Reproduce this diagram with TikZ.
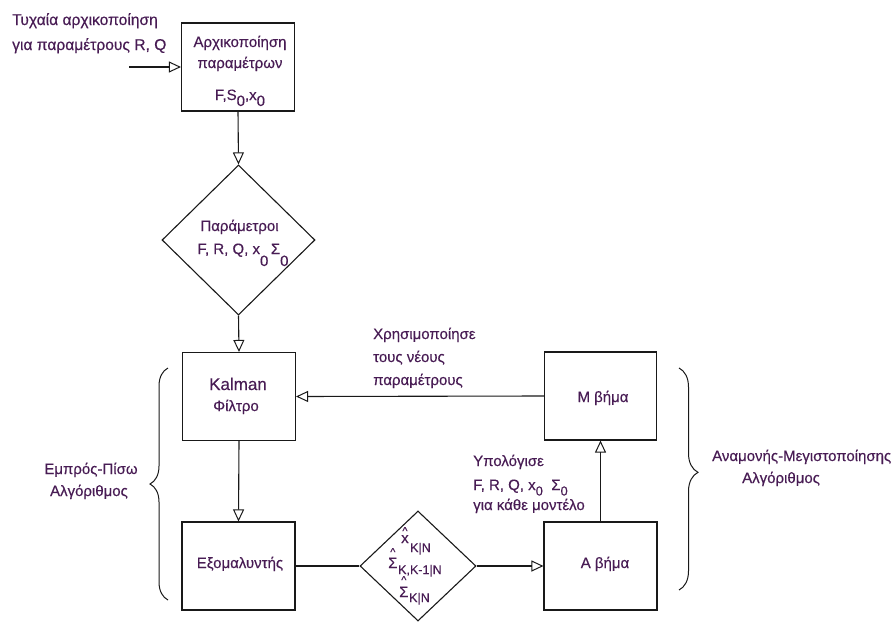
\documentclass[tikz,border=0pt]{standalone}
\usepackage{fontspec}
\setmainfont{Liberation Sans}
\newfontfamily\inkfont{Liberation Sans}[FakeBold=0.35]
\usetikzlibrary{arrows.meta,decorations.pathreplacing,shapes.geometric}

\definecolor{ink}{RGB}{72,28,84}
\definecolor{edgecol}{RGB}{25,25,25}

% lowered index: [drop] {size} {text}
\newcommand\lowsub[3][6pt]{\raisebox{-#1}{\fontsize{#2}{#2}\selectfont #3}}

\tikzset{
  flow/.style={draw=edgecol, line width=1.1pt},
  arr/.style={flow, -{Triangle[open, length=12pt, width=11pt, line width=1pt]}},
  stepbox/.style={draw=edgecol, line width=1.1pt, rectangle, inner sep=0pt,
    minimum width=113pt, minimum height=88pt},
  choice/.style={draw=edgecol, line width=1.1pt, diamond, inner sep=0pt},
  lbl/.style={text=ink, font=\inkfont\fontsize{15}{18}\selectfont, inner sep=0pt, anchor=base},
  lblw/.style={lbl, anchor=base west},
  idx/.style={lblw, font=\inkfont\fontsize{12.5}{14}\selectfont},
  caret/.style={text=ink, font=\inkfont\fontsize{11}{11}\selectfont, inner sep=0pt, anchor=north},
  curly/.style={draw=edgecol, line width=1pt, decorate},
}

\begin{document}
\begin{tikzpicture}[x=1pt, y=-1pt]
\useasboundingbox (0,0) rectangle (891,621);

% boxes and decisions
\node[stepbox] (init)   at (238,67)    {};
\node[choice, minimum width=153pt, minimum height=150pt] (par) at (238.5,240) {};
\node[stepbox] (kalman) at (239,396.5) {};
\node[stepbox] (smooth) at (238.5,566) {};
\node[choice, minimum width=116pt, minimum height=110pt] (est) at (418,566) {};
\node[stepbox, minimum width=112pt] (mstep) at (600.5,396) {};
\node[stepbox] (astep)  at (600.5,566) {};

% connectors
\coordinate (start) at (129,67);
\draw[arr] (start) -- (init.west);
\draw[arr] (init.south) -- (par.north);
\draw[arr] (par.south) -- (kalman.north);
\draw[arr] (kalman.south) -- (smooth.north);
\draw[flow] (smooth.east) -- (est.west);
\draw[arr] (est.east) -- (astep.west);
\draw[arr] (astep.north) -- (mstep.south);
\draw[arr] (mstep.west) -- (kalman.east);

% braces
\coordinate (lbA) at (168,600);
\coordinate (lbB) at (168,368);
\draw[curly, decoration={brace, amplitude=18pt}] (lbA) -- (lbB);
\coordinate (rbA) at (679,368);
\coordinate (rbB) at (679,590);
\draw[curly, decoration={brace, amplitude=19pt, aspect=0.47}] (rbA) -- (rbB);

% texts
\node[lblw, font=\inkfont\fontsize{15.6}{18}\selectfont] (t1) at (12,25) {Τυχαία αρχικοποίηση};
\node[lblw, font=\inkfont\fontsize{15.6}{18}\selectfont] (t2) at (12,50) {για παραμέτρους R, Q};

\node[lbl] (i1) at (240,47) {Αρχικοποίηση};
\node[lbl] (i2) at (240,68) {παραμέτρων};
\node[lbl] (i3) at (240,100) {F,S\lowsub[6pt]{15}{0},x\lowsub[6pt]{15}{0}};

\node[lbl] (p1) at (239.5,231) {Παράμετροι};
\node[lbl] (p2) at (243,254) {F, R, Q, x\lowsub[12pt]{15}{0}\,Σ\lowsub[12pt]{15}{0}};

\node[lbl, font=\inkfont\fontsize{17}{20}\selectfont] (k1) at (238,390) {Kalman};
\node[lbl] (k2) at (236,411) {Φίλτρο};

\node[lblw] (u1) at (373,339) {Χρησιμοποίησε};
\node[lblw] (u2) at (373,362) {τους νέους};
\node[lblw] (u3) at (373,385) {παραμέτρους};

\node[lbl] (m1) at (603,402) {Μ βήμα};

\node[lblw] (c1) at (473,466) {Υπολόγισε};
\node[lblw] (c2) at (473,490) {F, R, Q, x\lowsub[5.5pt]{13}{0}\ \ Σ\lowsub[5.5pt]{13}{0}};
\node[lblw] (c3) at (473,510) {για κάθε μοντέλο};

\node[lbl] (s1) at (240,568) {Εξομαλυντής};
\node[lbl] (a1) at (605,568) {Α βήμα};

% estimates passed from the smoother
\node[lblw] (e1) at (401,543) {x};
\node[caret] (e1h) at (e1.north |- 0,527) {\char"5E};
\node[idx] (e1s) at (410,552) {K|N};
\node[lblw] (e2) at (388,568) {Σ};
\node[caret] (e2h) at (e2.north |- 0,548) {\char"5E};
\node[idx] (e2s) at (398,574) {K,K-1|N};
\node[lblw] (e3) at (399,597) {Σ};
\node[caret] (e3h) at (e3.north |- 0,576) {\char"5E};
\node[idx] (e3s) at (409,602) {K|N};

\node[lbl] (f1) at (91,474) {Εμπρός-Πίσω};
\node[lbl] (f2) at (89,496) {Αλγόριθμος};

\node[lblw] (g1) at (712,461) {Αναμονής-Μεγιστοποίησης};
\node[lblw] (g2) at (742,483) {Αλγόριθμος};
\end{tikzpicture}
\end{document}
